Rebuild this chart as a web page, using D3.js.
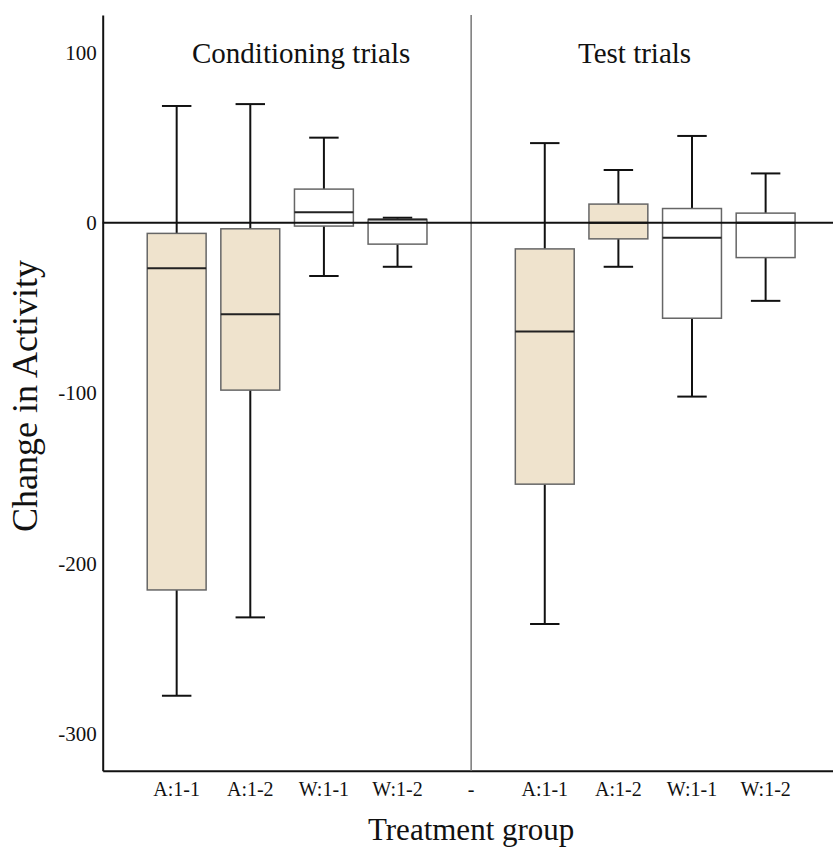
<!DOCTYPE html>
<html>
<head>
    <meta charset="utf-8">
    <title>Change in Activity</title>
    <script src="https://d3js.org/d3.v7.min.js"></script>
    <style>
        body {
            margin: 0;
            background-color: white;
        }
        svg text {
            font-family: "Liberation Serif", "Times New Roman", serif;
            fill: #111;
        }
    </style>
</head>
<body>
<div id="chart"></div>
<script>
// data
var groupLabels = ["A:1-1", "A:1-2", "W:1-1", "W:1-2"];
var phaseTitles = ["Conditioning trials", "Test trials"];
var yTicks = [-300, -200, -100, 0, 100];

var condMin    = [-277.6, -231.6, -31.2, -25.8];
var condQ1     = [-215.5, -98.2, -1.9, -12.5];
var condMedian = [-26.7, -53.7, 6.2, 2];
var condQ3     = [-6.2, -3.5, 19.8, 2];
var condMax    = [68.6, 69.7, 50, 3];

var testMin    = [-235.5, -25.8, -102, -45.8];
var testQ1     = [-153.4, -9.4, -56, -20.4];
var testMedian = [-63.8, 0, -8.8, 0];
var testQ3     = [-15.3, 11, 8.4, 5.7];
var testMax    = [46.8, 31, 51, 29];

// build the box table from the arrays
var boxes = [];
groupLabels.forEach(function(g, i) {
    boxes.push({ key: "C|" + g, label: g, min: condMin[i], q1: condQ1[i], median: condMedian[i], q3: condQ3[i], max: condMax[i] });
});
groupLabels.forEach(function(g, i) {
    boxes.push({ key: "T|" + g, label: g, min: testMin[i], q1: testQ1[i], median: testMedian[i], q3: testQ3[i], max: testMax[i] });
});

// x domain: conditioning groups, a "-" gap, then test groups
var domainKeys = groupLabels.map(function(g) { return "C|" + g; })
    .concat(["-"])
    .concat(groupLabels.map(function(g) { return "T|" + g; }));

var width = 833, height = 848;
var plotLeft = 102.7, plotRight = 833, plotTop = 15, plotBottom = 770.7;

var svg = d3.select("#chart")
    .append("svg")
    .attr("width", width)
    .attr("height", height);

var x = d3.scaleBand()
    .domain(domainKeys)
    .range([plotLeft, plotRight])
    .paddingInner(0.2)
    .paddingOuter(0.56)
    .align(0.54);

var y = d3.scaleLinear()
    .domain([-321.6, 122])
    .range([plotBottom, plotTop]);

// y axis (plain hyphen for negatives, like the original)
var yAxis = svg.append("g")
    .attr("transform", "translate(" + plotLeft + ",0)")
    .call(d3.axisLeft(y).tickValues(yTicks).tickSize(0).tickPadding(6)
        .tickFormat(function(d) { return String(d); }));
yAxis.select(".domain").attr("stroke", "#111").attr("stroke-width", 2);
yAxis.selectAll("text")
    .style("font-size", "21px")
    .style("font-family", "'Liberation Serif', serif");

// x axis
var xAxis = svg.append("g")
    .attr("transform", "translate(0," + plotBottom + ")")
    .call(d3.axisBottom(x).tickSize(0).tickPadding(11).tickFormat(function(d) {
        return d === "-" ? "-" : d.split("|")[1];
    }));
xAxis.select(".domain").attr("stroke", "#111").attr("stroke-width", 2);
xAxis.selectAll("text")
    .style("font-size", "20px")
    .style("font-family", "'Liberation Serif', serif");

// divider between the two phases
svg.append("line")
    .attr("x1", x("-") + x.bandwidth() / 2)
    .attr("x2", x("-") + x.bandwidth() / 2)
    .attr("y1", plotTop)
    .attr("y2", plotBottom)
    .attr("stroke", "#777")
    .attr("stroke-width", 1.5);

var cx = function(d) { return x(d.key) + x.bandwidth() / 2; };
var capHalf = x.bandwidth() / 4;

var g = svg.selectAll(".box")
    .data(boxes)
    .enter().append("g")
    .attr("class", "box");

// whiskers
g.append("line")
    .attr("x1", cx).attr("x2", cx)
    .attr("y1", function(d) { return y(d.max); })
    .attr("y2", function(d) { return y(d.q3); })
    .attr("stroke", "#111").attr("stroke-width", 2);
g.append("line")
    .attr("x1", cx).attr("x2", cx)
    .attr("y1", function(d) { return y(d.q1); })
    .attr("y2", function(d) { return y(d.min); })
    .attr("stroke", "#111").attr("stroke-width", 2);

// caps
g.append("line")
    .attr("x1", function(d) { return cx(d) - capHalf; })
    .attr("x2", function(d) { return cx(d) + capHalf; })
    .attr("y1", function(d) { return y(d.max); })
    .attr("y2", function(d) { return y(d.max); })
    .attr("stroke", "#111").attr("stroke-width", 2);
g.append("line")
    .attr("x1", function(d) { return cx(d) - capHalf; })
    .attr("x2", function(d) { return cx(d) + capHalf; })
    .attr("y1", function(d) { return y(d.min); })
    .attr("y2", function(d) { return y(d.min); })
    .attr("stroke", "#111").attr("stroke-width", 2);

// boxes, A groups beige and W groups white
g.append("rect")
    .attr("x", function(d) { return x(d.key); })
    .attr("y", function(d) { return y(d.q3); })
    .attr("width", x.bandwidth())
    .attr("height", function(d) { return Math.max(0.5, y(d.q1) - y(d.q3)); })
    .attr("fill", function(d) { return d.label[0] === "A" ? "#efe3cd" : "#ffffff"; })
    .attr("stroke", "#666")
    .attr("stroke-width", 1.5);

// medians
g.append("line")
    .attr("x1", function(d) { return x(d.key); })
    .attr("x2", function(d) { return x(d.key) + x.bandwidth(); })
    .attr("y1", function(d) { return y(d.median); })
    .attr("y2", function(d) { return y(d.median); })
    .attr("stroke", "#222").attr("stroke-width", 2);

// zero reference line
svg.append("line")
    .attr("x1", plotLeft)
    .attr("x2", plotRight)
    .attr("y1", y(0))
    .attr("y2", y(0))
    .attr("stroke", "#111")
    .attr("stroke-width", 2);

// phase titles
svg.append("text")
    .attr("x", 192)
    .attr("y", 63)
    .style("font-size", "29px")
    .text(phaseTitles[0]);
svg.append("text")
    .attr("x", 578)
    .attr("y", 63)
    .style("font-size", "29px")
    .text(phaseTitles[1]);

// axis titles
svg.append("text")
    .attr("x", x("-") + x.bandwidth() / 2)
    .attr("y", 840)
    .attr("text-anchor", "middle")
    .style("font-size", "31px")
    .text("Treatment group");

svg.append("text")
    .attr("transform", "translate(37,396) rotate(-90)")
    .attr("text-anchor", "middle")
    .style("font-size", "36px")
    .text("Change in Activity");
</script>
</body>
</html>
